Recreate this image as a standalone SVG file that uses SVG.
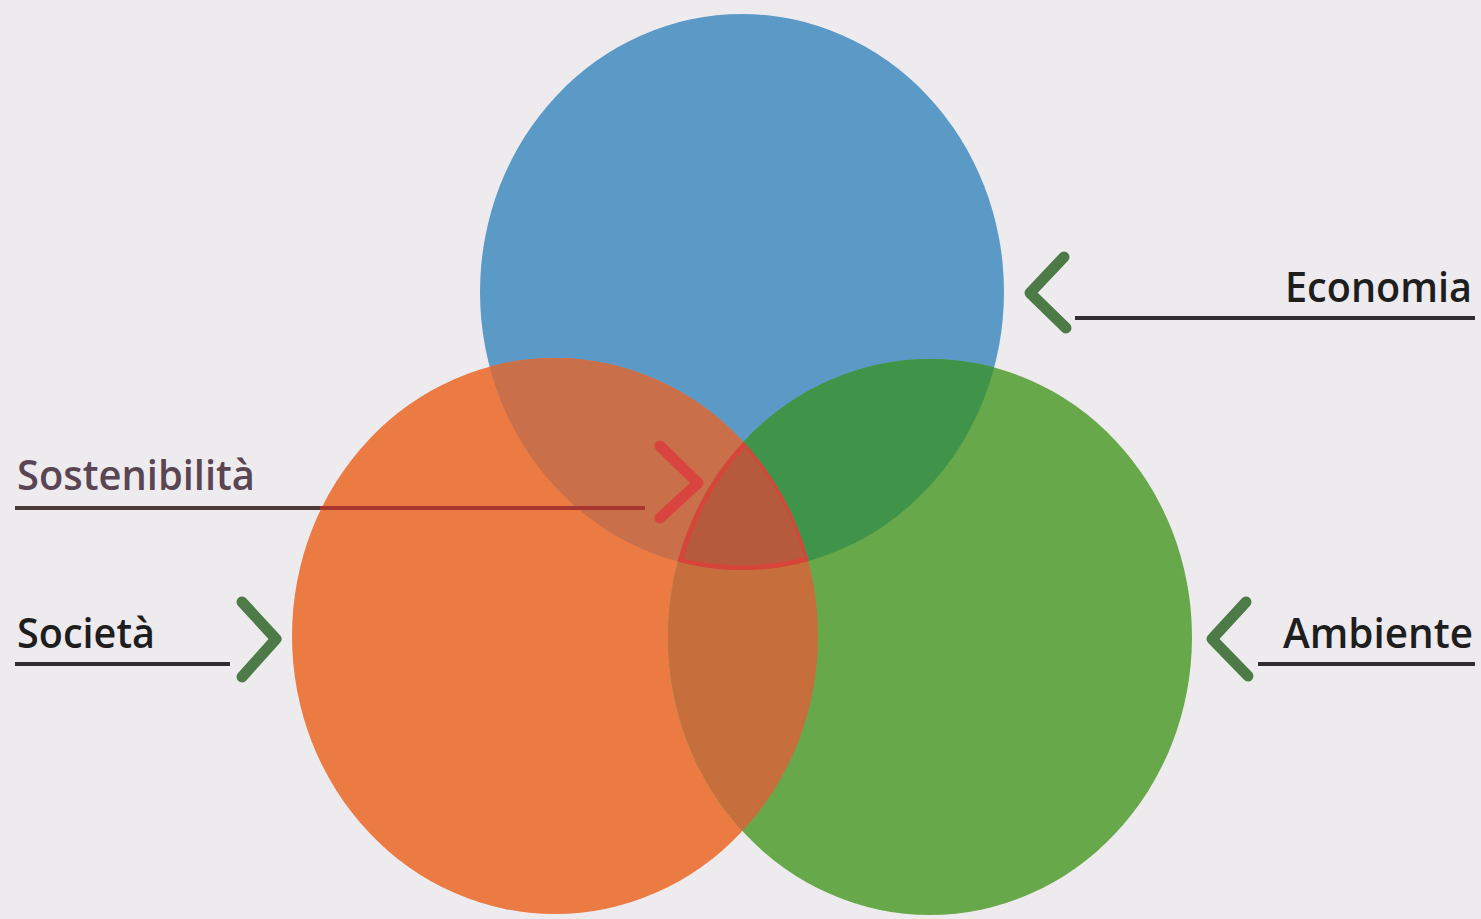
<svg xmlns="http://www.w3.org/2000/svg" width="1481" height="919" viewBox="0 0 1481 919">
<style>
.lbl{font-family:"Open Sans","Noto Sans",sans-serif;font-size:42px;font-weight:600;fill:#1e1e1e}
.line{stroke:#2f2f2f;stroke-width:4;fill:none}
.chev{stroke:#4d7b48;stroke-width:11;fill:none;stroke-linecap:round;stroke-linejoin:round}
.tri{fill:none;stroke:#d8443a;stroke-width:9}
</style>
<defs>
<clipPath id="cB"><ellipse cx="742" cy="292" rx="262" ry="278"/></clipPath>
<clipPath id="cO"><ellipse cx="555" cy="636" rx="263" ry="278"/></clipPath>
<clipPath id="cG"><ellipse cx="930" cy="637" rx="262" ry="278"/></clipPath>
</defs>
<rect width="1481" height="919" fill="#eeebee"/>
<g id="economia-circle"><ellipse cx="742" cy="292" rx="262" ry="278" fill="#5b9ac6"/></g>
<g id="societa-circle"><ellipse cx="555" cy="636" rx="263" ry="278" fill="#ec7a43"/></g>
<g id="ambiente-circle"><ellipse cx="930" cy="637" rx="262" ry="278" fill="#67a84a"/></g>
<g id="overlaps">
<g clip-path="url(#cB)"><ellipse cx="555" cy="636" rx="263" ry="278" fill="#c9704a"/><ellipse cx="930" cy="637" rx="262" ry="278" fill="#3f944a"/></g>
<g clip-path="url(#cO)"><ellipse cx="930" cy="637" rx="262" ry="278" fill="#c66f3d"/></g>
</g>
<g id="sostenibilita-region" clip-path="url(#cB)"><g clip-path="url(#cO)"><g clip-path="url(#cG)">
<rect x="600" y="400" width="300" height="200" fill="#b65a3e"/>
<ellipse class="tri" cx="742" cy="292" rx="262" ry="278"/>
<ellipse class="tri" cx="555" cy="636" rx="263" ry="278" style="stroke-width:5"/>
<ellipse class="tri" cx="930" cy="637" rx="262" ry="278"/>
</g></g></g>
<g id="connectors">
<line class="line" x1="15" y1="508" x2="322" y2="508" style="stroke:#4a3a3a"/>
<line class="line" x1="320" y1="508" x2="645" y2="508" style="stroke:#a8352e"/>
<polyline points="660,446 698,483 660,518" fill="none" stroke="#d9453e" stroke-width="11" stroke-linecap="round" stroke-linejoin="round"/>
<line class="line" x1="15" y1="664" x2="230" y2="664"/>
<polyline class="chev" points="242,602 276,639 242,677"/>
<line class="line" x1="1075" y1="318" x2="1475" y2="318"/>
<polyline class="chev" points="1064,257 1030,293 1066,328"/>
<line class="line" x1="1258" y1="664" x2="1475" y2="664"/>
<polyline class="chev" points="1246,602 1212,639 1248,676"/>
</g>
<g id="label-sostenibilita"><text class="lbl" x="17" y="490" textLength="238" lengthAdjust="spacingAndGlyphs" style="fill:#5a4552">Sostenibilità</text></g>
<g id="label-societa"><text class="lbl" x="17" y="648" textLength="138" lengthAdjust="spacingAndGlyphs">Società</text></g>
<g id="label-economia"><text class="lbl" x="1285" y="302" textLength="187" lengthAdjust="spacingAndGlyphs">Economia</text></g>
<g id="label-ambiente"><text class="lbl" x="1283" y="648" textLength="190" lengthAdjust="spacingAndGlyphs">Ambiente</text></g>
</svg>
